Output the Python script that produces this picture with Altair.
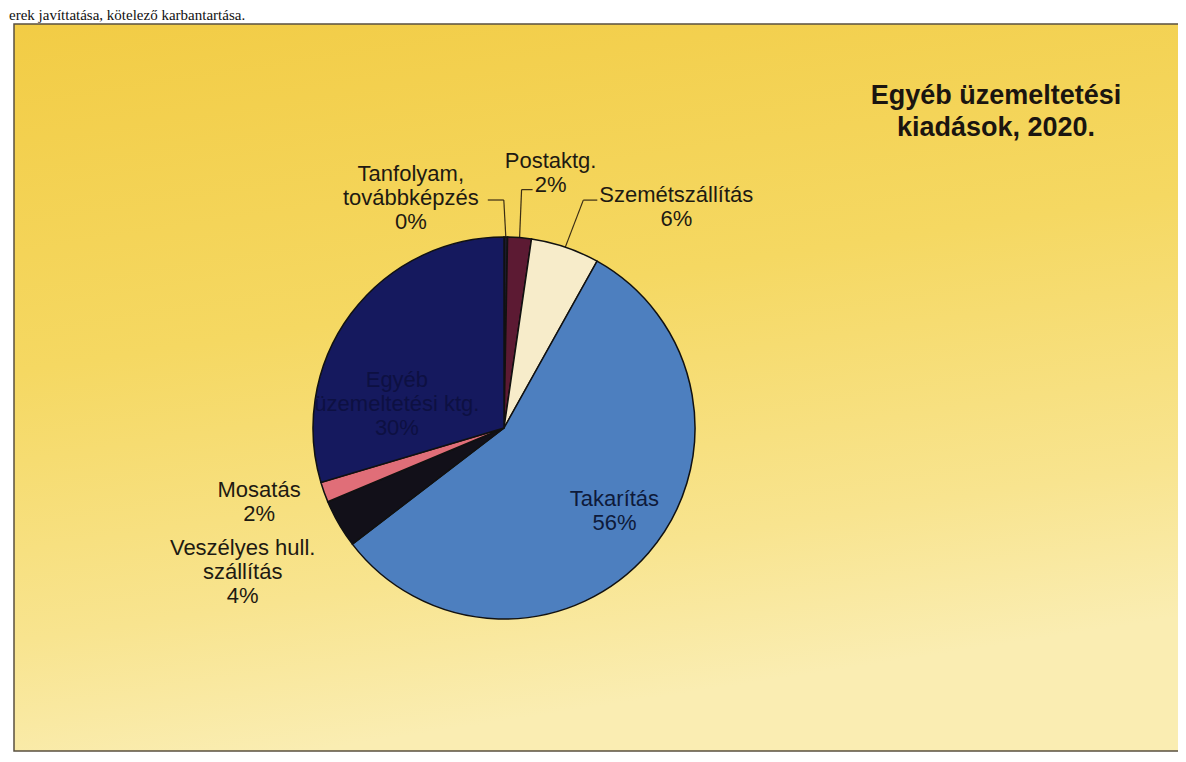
import altair as alt
import pandas as pd

# ---- data ----
categories = ["Tanfolyam, továbbképzés", "Postaktg.", "Szemétszállítás", "Takarítás",
              "Veszélyes hull. szállítás", "Mosatás", "Egyéb üzemeltetési ktg."]
label_lines = ["Tanfolyam,\ntovábbképzés", "Postaktg.", "Szemétszállítás", "Takarítás",
               "Veszélyes hull.\nszállítás", "Mosatás", "Egyéb\nüzemeltetési ktg."]
shares = [0.3, 2.0, 5.8, 56.5, 4.1, 1.7, 29.6]
pct_labels = ["0%", "2%", "6%", "56%", "4%", "2%", "30%"]
title_lines = ["Egyéb üzemeltetési", "kiadások, 2020."]
header_text = "erek javíttatása, kötelező karbantartása."

# ---- styling / layout ----
colors = ["#1c1a2c", "#5c1a33", "#f7ecca", "#4d7fbf", "#121019", "#e06e78", "#15195e"]
text_colors = ["#1e1a12", "#1e1a12", "#1e1a12", "#0e1a3a", "#1e1a12", "#1e1a12", "#0d1042"]
W, H = 1170, 746
CX, CY, R = 496, 420, 191
LH = 24
# label centre offset from the slice's mid-point on the rim
label_off = {0: (-95, -39), 1: (31, -65), 2: (111, -40), 3: (-34, -42),
             4: (-96, 48), 5: (-65, 10), 6: (46, 90)}
# leader line: elbow offset from rim point, horizontal tail length
leader_off = {0: (-2, -37, -16), 1: (2, -48, 11), 2: (18, -47, 14)}

rows = []
for i, c in enumerate(categories):
    dx, dy = label_off[i]
    ex, ey, hx = leader_off.get(i, (0, 0, 0))
    text = label_lines[i] + "\n" + pct_labels[i]
    rows.append(dict(category=c, share=shares[i], idx=i, label=text,
                     nlines=text.count("\n") + 1,
                     tcolor=text_colors[i], ldx=dx, ldy=dy, edx=ex, edy=ey, ehx=hx))
df = pd.DataFrame(rows)

base = alt.Chart(df)

bg = alt.Chart(pd.DataFrame({"k": [0]})).mark_rect(
    color=alt.Gradient(gradient="linear",
                       stops=[alt.GradientStop(color="#f2cc45", offset=0),
                              alt.GradientStop(color="#f5d862", offset=0.45),
                              alt.GradientStop(color="#f8e48f", offset=0.8),
                              alt.GradientStop(color="#faedb2", offset=1)],
                       x1=0, x2=0.25, y1=0, y2=1),
    stroke="#5a5040", strokeWidth=1.5
).encode(x=alt.value(6), x2=alt.value(W + 20), y=alt.value(16), y2=alt.value(H - 3))

pie = base.mark_arc(radius=R, stroke="#111111", strokeWidth=1.5).encode(
    theta=alt.Theta("share:Q", stack=True),
    order=alt.Order("idx:Q"),
    color=alt.Color("category:N", scale=alt.Scale(domain=categories, range=colors), legend=None),
    x=alt.value(CX), y=alt.value(CY),
)

geo = base.transform_window(
    cum="sum(share)", sort=[alt.SortField("idx")], frame=[None, 0]
).transform_joinaggregate(total="sum(share)").transform_calculate(
    a="2*PI*(datum.cum - datum.share/2)/datum.total"
).transform_calculate(
    ax=f"{CX} + {R}*sin(datum.a)",
    ay=f"{CY} - {R}*cos(datum.a)",
).transform_calculate(
    lx="datum.ax + datum.ldx",
    ly=f"datum.ay + datum.ldy - (datum.nlines - 1) * {LH} / 2",
    exx="datum.ax + datum.edx",
    eyy="datum.ay + datum.edy",
).transform_calculate(
    hxx="datum.exx + datum.ehx"
)

labels = geo.mark_text(lineBreak="\n", fontSize=22, font="Liberation Sans", lineHeight=LH,
                       align="center", baseline="middle").encode(
    x=alt.X("lx:Q", scale=None, axis=None),
    y=alt.Y("ly:Q", scale=None, axis=None),
    text="label:N",
    color=alt.Color("tcolor:N", scale=None),
)

lead1 = geo.transform_filter("datum.ehx != 0").mark_rule(color="#3a2c14", strokeWidth=1.2).encode(
    x=alt.X("ax:Q", scale=None, axis=None), y=alt.Y("ay:Q", scale=None, axis=None),
    x2="exx:Q", y2="eyy:Q")
lead2 = geo.transform_filter("datum.ehx != 0").mark_rule(color="#3a2c14", strokeWidth=1.2).encode(
    x=alt.X("exx:Q", scale=None, axis=None), y=alt.Y("eyy:Q", scale=None, axis=None),
    x2="hxx:Q", y2="eyy:Q")

title = alt.Chart(pd.DataFrame({"t": ["\n".join(title_lines)]})).mark_text(
    lineBreak="\n", fontSize=27, fontWeight="bold", font="Liberation Sans", lineHeight=32,
    align="center", baseline="middle", color="#1a1510"
).encode(text="t:N", x=alt.value(988), y=alt.value(88))

header = alt.Chart(pd.DataFrame({"t": [header_text]})).mark_text(
    fontSize=15, font="Liberation Serif", align="left", baseline="alphabetic", color="#111111"
).encode(text="t:N", x=alt.value(1), y=alt.value(12))

chart = alt.layer(bg, lead1, lead2, pie, labels, title, header).properties(
    width=W, height=H, padding=0, autosize=alt.AutoSizeParams(type="none"),
    background="white"
).configure_view(stroke=None)

chart.save("out.html", embed_options={"renderer": "svg", "actions": False})
